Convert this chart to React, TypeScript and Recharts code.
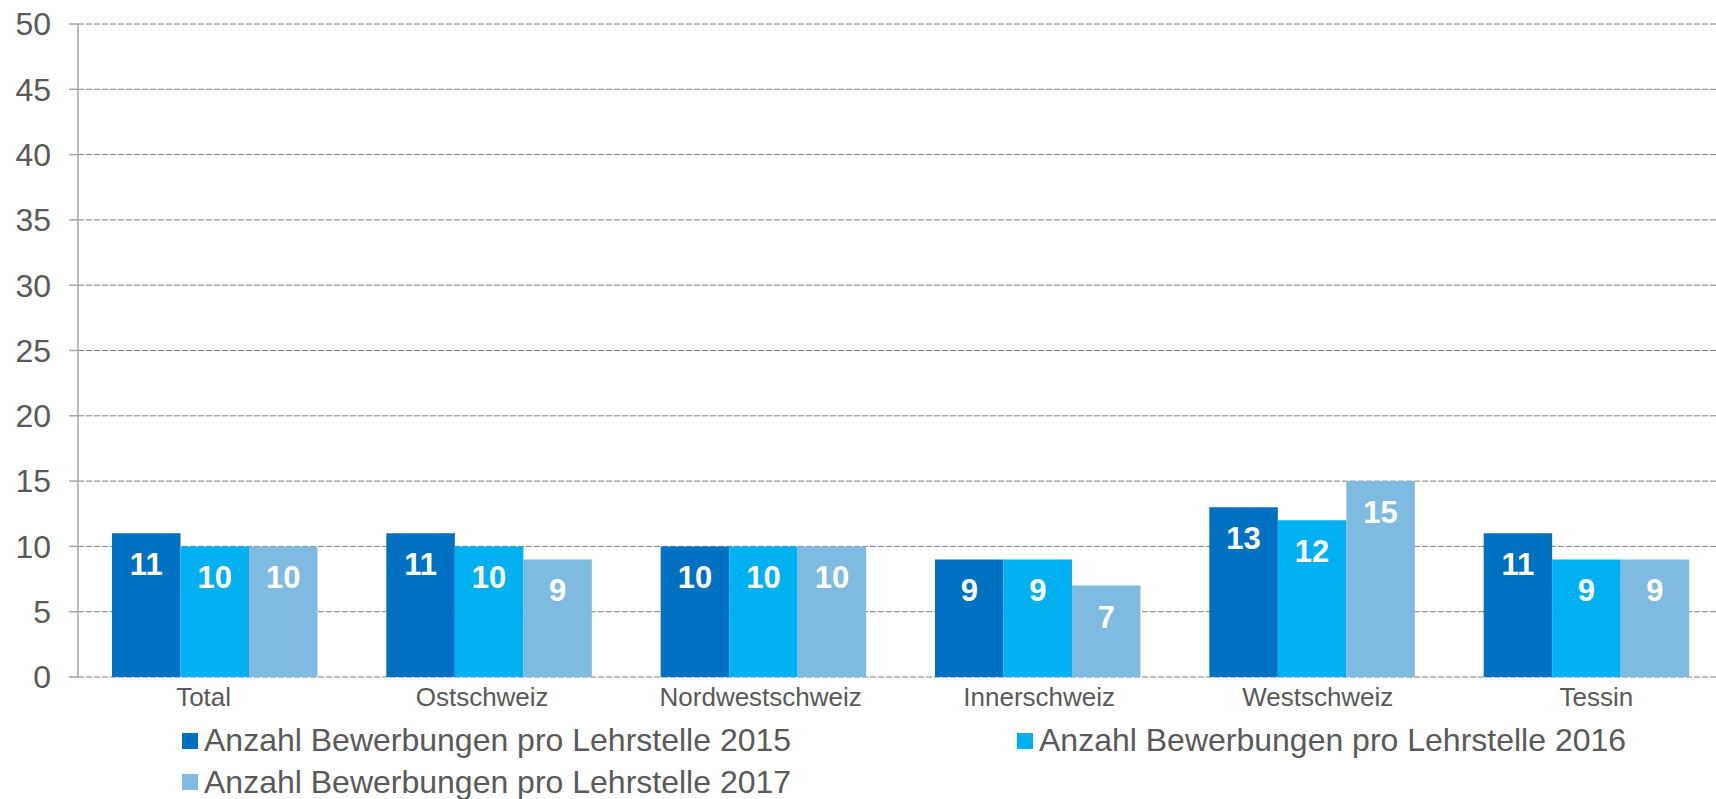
import { BarChart, Bar, XAxis, YAxis, CartesianGrid, Legend, LabelList } from 'recharts';

const regions = ['Total', 'Ostschweiz', 'Nordwestschweiz', 'Innerschweiz', 'Westschweiz', 'Tessin'];
const values2015 = [11, 11, 10, 9, 13, 11];
const values2016 = [10, 10, 10, 9, 12, 9];
const values2017 = [10, 9, 10, 7, 15, 9];
const yTicks = [0, 5, 10, 15, 20, 25, 30, 35, 40, 45, 50];

const series = [
  { key: 'y2015', name: 'Anzahl Bewerbungen pro Lehrstelle 2015', color: '#0070c0' },
  { key: 'y2016', name: 'Anzahl Bewerbungen pro Lehrstelle 2016', color: '#00b0f0' },
  { key: 'y2017', name: 'Anzahl Bewerbungen pro Lehrstelle 2017', color: '#7fbbe0' },
];

const data = regions.map((region, i) => ({
  region,
  y2015: values2015[i],
  y2016: values2016[i],
  y2017: values2017[i],
}));

const FONT = '"Liberation Sans", Arial, sans-serif';
const GREY_TEXT = '#595959';

// category labels in the original sit on a slightly wider spacing than the bars
function RegionTick({ x, y, payload, index }: any) {
  const i = index ?? payload?.index ?? 0;
  const shift = (i - 2.75) * 4.2;
  return (
    <text
      x={x + shift}
      y={y}
      dy="0.71em"
      textAnchor="middle"
      fill={GREY_TEXT}
      fontSize={26}
      fontFamily={FONT}
    >
      {payload.value}
    </text>
  );
}

function LegendBox({ payload }: any) {
  return (
    <div
      style={{
        display: 'grid',
        gridTemplateColumns: '835px auto',
        gridAutoRows: '41.5px',
        width: 1716,
        height: 81,
        boxSizing: 'border-box',
        paddingLeft: 182,
        paddingTop: 2,
        fontFamily: FONT,
        fontSize: 32,
        color: GREY_TEXT,
      }}
    >
      {(payload || []).map((entry: any) => (
        <div
          key={entry.value}
          style={{ display: 'flex', alignItems: 'center', whiteSpace: 'nowrap' }}
        >
          <span style={{ width: 16, height: 16, background: entry.color, marginRight: 6, flex: 'none' }} />
          <span>{entry.value}</span>
        </div>
      ))}
    </div>
  );
}

export default function App() {
  return (
    <div style={{ position: 'absolute', left: 0, top: 0, width: 1716, height: 799, overflow: 'hidden', background: '#fff' }}>
      <BarChart
        width={1724}
        height={799}
        data={data}
        margin={{ top: 24, right: 0, left: 0, bottom: 0 }}
        barGap={0}
      >
        <CartesianGrid vertical={false} stroke="#7f7f7f" strokeDasharray="6 2" />
        <XAxis
          dataKey="region"
          height={41}
          axisLine={false}
          tickLine={false}
          tickSize={0}
          tickMargin={11}
          interval={0}
          tick={<RegionTick />}
        />
        <YAxis
          width={78}
          domain={[0, 50]}
          ticks={yTicks}
          interval={0}
          axisLine={{ stroke: '#a6a6a6', strokeWidth: 1.5 }}
          tickLine={{ stroke: '#a6a6a6', strokeWidth: 1.5 }}
          tickSize={9}
          tickMargin={18}
          tick={{ fill: GREY_TEXT, fontSize: 32, fontFamily: FONT }}
        />
        <Legend
          verticalAlign="bottom"
          align="left"
          content={<LegendBox />}
          wrapperStyle={{ left: 0, width: 1716, height: 81 }}
        />
        {series.map((s) => (
          <Bar key={s.key} dataKey={s.key} name={s.name} fill={s.color} barSize={68.5} isAnimationActive={false}>
            <LabelList
              dataKey={s.key}
              position="insideTop"
              offset={20}
              fill="#ffffff"
              style={{ fontSize: 31, fontWeight: 'bold', fontFamily: FONT }}
            />
          </Bar>
        ))}
      </BarChart>
    </div>
  );
}
